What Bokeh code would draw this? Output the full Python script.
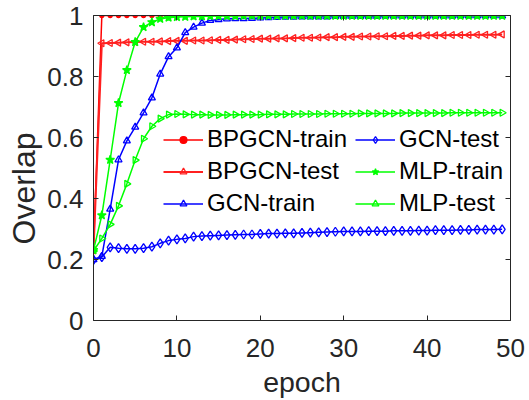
from bokeh.plotting import figure
from bokeh.models import Range1d, LinearAxis, FixedTicker, Legend, LegendItem, Title
from bokeh.embed import file_html
from bokeh.resources import INLINE

epochs = list(range(50))

bpgcn_train = [0.23] + [1.0] * 49

bpgcn_test = [0.23, 0.909, 0.910, 0.911, 0.912, 0.913, 0.914, 0.914, 0.915, 0.916,
              0.917, 0.917, 0.918, 0.918, 0.919, 0.920, 0.920, 0.921, 0.922, 0.923,
              0.924, 0.924, 0.925, 0.925, 0.926, 0.927, 0.927, 0.928, 0.929, 0.929,
              0.930, 0.930, 0.931, 0.931, 0.932, 0.932, 0.933, 0.933, 0.934, 0.934,
              0.935, 0.935, 0.935, 0.936, 0.936, 0.936, 0.937, 0.937, 0.937, 0.938]

gcn_train = [0.200, 0.210, 0.365, 0.527, 0.589, 0.634, 0.681, 0.730, 0.808, 0.865,
             0.894, 0.944, 0.962, 0.975, 0.984, 0.987, 0.989, 0.990, 0.990, 0.991,
             0.992, 0.993, 0.994, 0.995, 0.995, 0.996, 0.996, 0.996, 0.996, 0.997,
             0.997, 0.997, 0.997, 0.997, 0.997, 0.998, 0.998, 0.998, 0.998, 0.998,
             0.998, 0.998, 0.998, 0.998, 0.999, 0.999, 0.999, 0.999, 0.999, 0.999]

gcn_test = [0.199, 0.208, 0.240, 0.237, 0.235, 0.235, 0.237, 0.242, 0.253, 0.262,
            0.266, 0.269, 0.275, 0.277, 0.278, 0.279, 0.280, 0.281, 0.282, 0.282,
            0.284, 0.285, 0.285, 0.286, 0.286, 0.287, 0.288, 0.289, 0.290, 0.291,
            0.292, 0.292, 0.292, 0.293, 0.293, 0.293, 0.294, 0.294, 0.294, 0.295,
            0.295, 0.296, 0.296, 0.296, 0.297, 0.297, 0.298, 0.298, 0.298, 0.299]

mlp_train = [0.231, 0.345, 0.527, 0.713, 0.821, 0.913, 0.962, 0.978, 0.989, 0.993,
             0.995, 0.996, 0.997, 0.997, 0.998, 0.998, 0.998, 0.998, 0.999, 0.999,
             0.999, 0.999, 0.999, 0.999, 0.999, 0.999, 0.999, 0.999, 0.999, 0.999,
             0.999, 0.999, 0.999, 0.999, 0.999, 0.999, 0.999, 0.999, 0.999, 0.999,
             0.999, 0.999, 0.999, 0.999, 0.999, 0.999, 0.999, 0.999, 0.999, 0.999]

mlp_test = [0.228, 0.269, 0.315, 0.376, 0.448, 0.526, 0.596, 0.637, 0.662, 0.675,
            0.677, 0.676, 0.675, 0.675, 0.674, 0.674, 0.674, 0.675, 0.675, 0.675,
            0.675, 0.676, 0.676, 0.676, 0.677, 0.677, 0.677, 0.677, 0.678, 0.678,
            0.678, 0.678, 0.679, 0.679, 0.679, 0.679, 0.679, 0.680, 0.680, 0.680,
            0.680, 0.680, 0.680, 0.681, 0.681, 0.681, 0.681, 0.681, 0.681, 0.681]

x_ticks = [0, 10, 20, 30, 40, 50]
y_ticks = [0, 0.2, 0.4, 0.6, 0.8, 1]
y_tick_labels = ["0", "0.2", "0.4", "0.6", "0.8", "1"]

FONT = "Liberation Sans"
AX = "#262626"

p = figure(width=529, height=400, x_range=Range1d(0, 50), y_range=Range1d(0, 1),
           output_backend="svg", toolbar_location=None,
           x_axis_type=None, y_axis_type=None,
           min_border_left=93, min_border_right=19, min_border_top=15, min_border_bottom=77)
p.outline_line_color = None
p.xgrid.visible = False
p.ygrid.visible = False
p.background_fill_color = "white"


def style_axis(ax, ticks, show_labels):
    ax.axis_line_color = AX
    ax.axis_line_width = 1
    ax.major_tick_line_color = AX
    ax.major_tick_in = 5
    ax.major_tick_out = 0
    ax.minor_tick_in = 0
    ax.minor_tick_out = 0
    ax.major_label_text_font = FONT
    ax.major_label_text_color = AX
    ax.major_label_text_font_size = "26px"
    if not show_labels:
        ax.major_label_overrides = {t: "" for t in ticks}
        ax.major_label_standoff = 0


xb = LinearAxis(ticker=FixedTicker(ticks=x_ticks), axis_label="epoch")
style_axis(xb, x_ticks, True)
xb.major_label_standoff = 18
xb.axis_label_standoff = 6
xb.axis_label_text_font = FONT
xb.axis_label_text_font_size = "28.5px"
xb.axis_label_text_font_style = "normal"
xb.axis_label_text_color = AX
p.add_layout(xb, "below")

yl = LinearAxis(ticker=FixedTicker(ticks=y_ticks))
style_axis(yl, y_ticks, True)
yl.major_label_overrides = {t: s for t, s in zip(y_ticks, y_tick_labels)}
yl.major_label_standoff = 10
p.add_layout(yl, "left")

ytitle = Title(text="Overlap", align="left", offset=76, standoff=6,
               text_font=FONT, text_font_size="32px", text_font_style="normal",
               text_color=AX)
p.add_layout(ytitle, "left")

xt = LinearAxis(ticker=FixedTicker(ticks=x_ticks))
style_axis(xt, x_ticks, False)
p.add_layout(xt, "above")

yr = LinearAxis(ticker=FixedTicker(ticks=y_ticks))
style_axis(yr, y_ticks, False)
p.add_layout(yr, "right")

series = [
    ("BPGCN-train", bpgcn_train, "#ff0000", 1.5, "circle", 4, True),
    ("BPGCN-test", bpgcn_test, "#ff2020", 2.0, "triangle", 7, False),
    ("GCN-train", gcn_train, "#0000ff", 1.5, "triangle", 7, False),
    ("GCN-test", gcn_test, "#0000ff", 1.5, "diamond", 9, False),
    ("MLP-train", mlp_train, "#00ff00", 1.5, "star", 9, True),
    ("MLP-test", mlp_test, "#00ff00", 1.5, "triangle", 7, False),
]
angles = {"BPGCN-test": 1.5708, "MLP-test": -1.5708}

items = []
for name, ys, col, lw, mk, sz, filled in series:
    r1 = p.line(epochs, ys, line_color=col, line_width=lw)
    r2 = p.scatter(epochs, ys, marker=mk, size=sz, line_color=col, line_width=1.3,
                   fill_color=col, fill_alpha=1.0 if filled else 0.0,
                   angle=angles.get(name, 0.0))
    items.append(LegendItem(label=name, renderers=[r1, r2]))


def make_legend(its, loc):
    return Legend(items=its, location=loc,
                  border_line_color=None, background_fill_alpha=0,
                  label_text_font=FONT, label_text_font_size="24px",
                  label_text_color="black", glyph_width=40, glyph_height=17,
                  label_height=27, label_standoff=4, spacing=4, padding=0, margin=0)


p.add_layout(make_legend(items[:3], (70, 103)))
p.add_layout(make_legend(items[3:], (262, 103)))

open("out.html", "w").write(file_html(p, INLINE))
